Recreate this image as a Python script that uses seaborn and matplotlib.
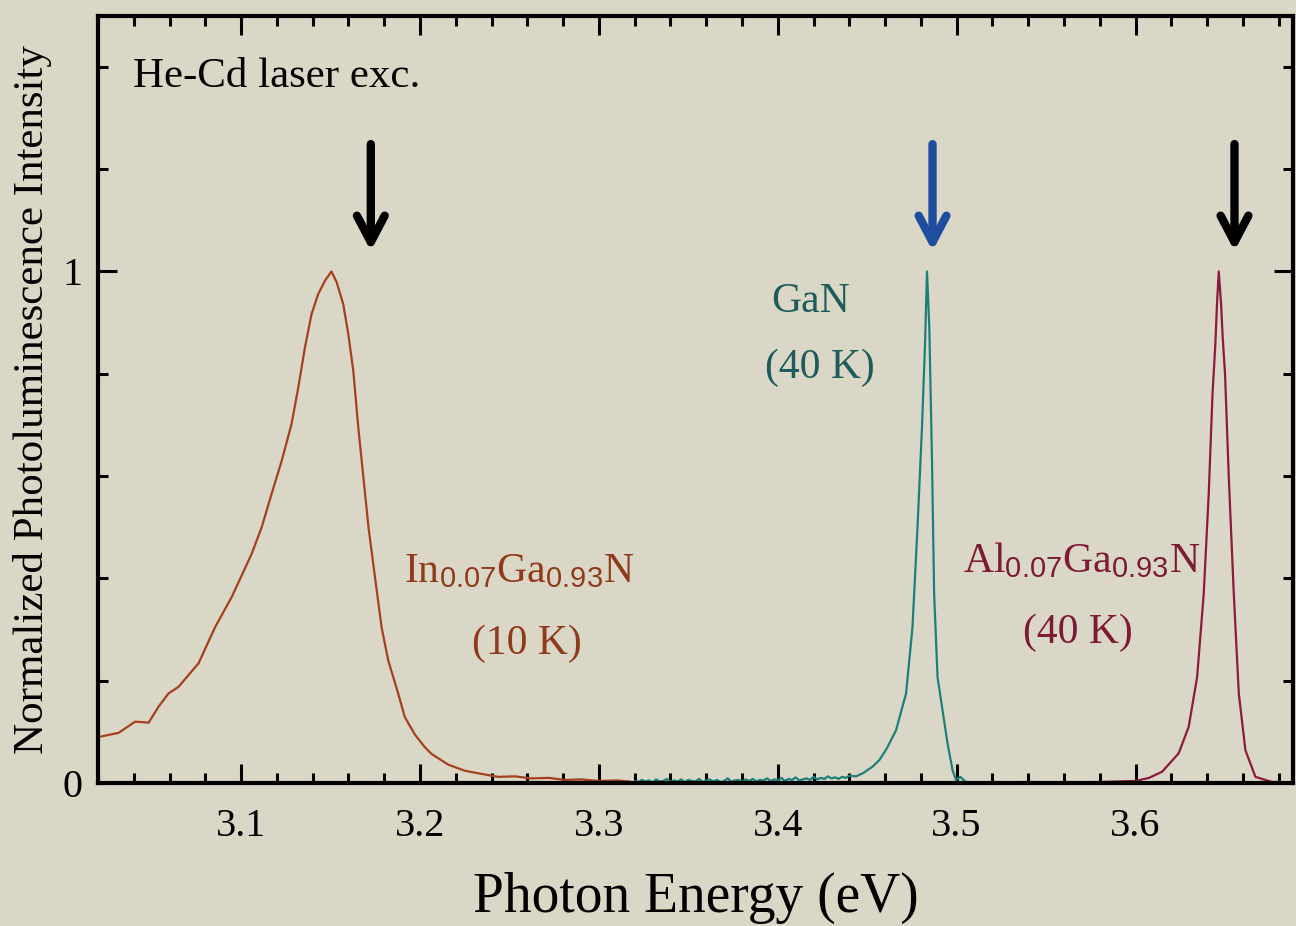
import matplotlib
matplotlib.use("Agg")
import matplotlib.pyplot as plt
import seaborn as sns
import pandas as pd
import numpy as np
from matplotlib.ticker import MultipleLocator

# ---------------- data ----------------
in_energy = [3.0204, 3.0315, 3.0408, 3.0483, 3.0540, 3.0594, 3.0650, 3.0762, 3.0855, 3.0948,
             3.1059, 3.1115, 3.1171, 3.1227, 3.1282, 3.1320, 3.1357, 3.1394, 3.1431, 3.1469,
             3.1505, 3.1534, 3.1571, 3.1599, 3.1627, 3.1655, 3.1712, 3.1748, 3.1785, 3.1822,
             3.1878, 3.1915, 3.1971, 3.2027, 3.2064, 3.2157, 3.2250, 3.2340, 3.2436, 3.2530,
             3.2620, 3.2720, 3.2810, 3.2900, 3.3000, 3.3100, 3.3172]
in_intensity = [0.090, 0.098, 0.120, 0.118, 0.150, 0.175, 0.188, 0.234, 0.305, 0.364,
                0.448, 0.500, 0.566, 0.630, 0.702, 0.774, 0.852, 0.917, 0.956, 0.982,
                1.000, 0.979, 0.936, 0.878, 0.806, 0.695, 0.500, 0.403, 0.305, 0.240,
                0.175, 0.129, 0.095, 0.070, 0.057, 0.036, 0.024, 0.018, 0.012, 0.013,
                0.009, 0.010, 0.006, 0.007, 0.004, 0.005, 0.003]

gan_energy = [3.320, 3.322, 3.324, 3.326, 3.328, 3.330, 3.332, 3.334, 3.336, 3.338,
              3.340, 3.342, 3.344, 3.346, 3.348, 3.350, 3.352, 3.354, 3.356, 3.358,
              3.360, 3.362, 3.364, 3.366, 3.368, 3.370, 3.372, 3.374, 3.376, 3.378,
              3.380, 3.382, 3.384, 3.386, 3.388, 3.390, 3.392, 3.394, 3.396, 3.398,
              3.400, 3.402, 3.404, 3.406, 3.408, 3.410, 3.412, 3.414, 3.416, 3.418,
              3.420, 3.422, 3.424, 3.426, 3.428, 3.430, 3.432, 3.434, 3.436, 3.438,
              3.440, 3.4438, 3.448, 3.4530, 3.4568, 3.4610, 3.4661, 3.4717, 3.4753, 3.4781,
              3.4806, 3.4823, 3.4834, 3.4847, 3.4862, 3.4874, 3.4893, 3.4921, 3.4949, 3.4977,
              3.4996, 3.5020, 3.5051]
gan_intensity = [0.004, 0.002, 0.006, 0.003, 0.005, 0.001, 0.007, 0.003, 0.004, 0.008,
                 0.002, 0.005, 0.003, 0.007, 0.002, 0.006, 0.004, 0.003, 0.008, 0.002,
                 0.005, 0.007, 0.003, 0.006, 0.002, 0.004, 0.009, 0.003, 0.005, 0.006,
                 0.002, 0.007, 0.004, 0.008, 0.003, 0.006, 0.005, 0.009, 0.004, 0.007,
                 0.005, 0.010, 0.004, 0.008, 0.006, 0.011, 0.005, 0.007, 0.009, 0.006,
                 0.012, 0.007, 0.010, 0.008, 0.013, 0.009, 0.011, 0.008, 0.012, 0.010,
                 0.014, 0.013, 0.020, 0.032, 0.045, 0.068, 0.103, 0.175, 0.305, 0.500,
                 0.695, 0.858, 1.000, 0.891, 0.630, 0.370, 0.207, 0.142, 0.077, 0.025,
                 0.006, 0.012, 0.002]

al_energy = [3.5066, 3.5200, 3.5400, 3.5600, 3.5800, 3.5900, 3.6000, 3.6075, 3.6148, 3.6241,
             3.6297, 3.6344, 3.6381, 3.6409, 3.6430, 3.6446, 3.6455, 3.6465, 3.6478, 3.6487,
             3.6500, 3.6521, 3.6549, 3.6577, 3.6614, 3.6670, 3.6763, 3.6880]
al_intensity = [0.000, 0.001, 0.002, 0.001, 0.002, 0.003, 0.004, 0.010, 0.022, 0.058,
                0.110, 0.207, 0.370, 0.566, 0.760, 0.858, 0.936, 1.000, 0.936, 0.871,
                0.800, 0.598, 0.370, 0.175, 0.064, 0.012, 0.002, 0.001]

arrow_energy = [3.1725, 3.4865, 3.6553]
arrow_colors = ["black", "#1f4e9e", "black"]

x_limits = (3.02, 3.688)
y_limits = (0.0, 1.5)

# ---------------- style ----------------
sns.set_theme(style="ticks")
paper = "#dbd7c6"
plt.rcParams["font.family"] = ["Liberation Serif", "DejaVu Serif"]
plt.rcParams["mathtext.fontset"] = "custom"
plt.rcParams["mathtext.rm"] = "Liberation Serif"
plt.rcParams["mathtext.sf"] = "Liberation Sans"
plt.rcParams["mathtext.it"] = "Liberation Serif:italic"
plt.rcParams["mathtext.bf"] = "Liberation Serif:bold"
for k in ["text.color", "axes.labelcolor", "xtick.color", "ytick.color", "axes.edgecolor"]:
    plt.rcParams[k] = "black"

fig = plt.figure(figsize=(12.96, 9.26), dpi=100, facecolor=paper)
ax = fig.add_axes([98 / 1296, (926 - 783) / 926, (1293 - 98) / 1296, (783 - 15.7) / 926])
ax.set_facecolor(paper)

c_in, c_gan, c_al = "#a3411c", "#1e7f7a", "#8b1a3c"

df_in = pd.DataFrame({"E": in_energy, "I": in_intensity})
df_gan = pd.DataFrame({"E": gan_energy, "I": gan_intensity})
df_al = pd.DataFrame({"E": al_energy, "I": al_intensity})

sns.lineplot(data=df_in, x="E", y="I", ax=ax, color=c_in, lw=1.6, sort=False)
sns.lineplot(data=df_gan, x="E", y="I", ax=ax, color=c_gan, lw=1.6, sort=False)
sns.lineplot(data=df_al, x="E", y="I", ax=ax, color=c_al, lw=1.6, sort=False)

ax.set_xlim(*x_limits)
ax.set_ylim(*y_limits)

ax.xaxis.set_major_locator(MultipleLocator(0.1))
ax.xaxis.set_minor_locator(MultipleLocator(0.02))
ax.yaxis.set_major_locator(MultipleLocator(1))
ax.yaxis.set_minor_locator(MultipleLocator(0.2))
ax.tick_params(which="both", direction="in", top=True, right=True, width=2.2, color="black",
               labelcolor="black")
ax.tick_params(which="major", length=13.7)
ax.tick_params(which="minor", length=7)
ax.tick_params(axis="x", which="major", labelsize=29, pad=18)
ax.tick_params(axis="y", which="major", labelsize=29, pad=11)
for s in ax.spines.values():
    s.set_linewidth(3)
    s.set_color("black")

ax.set_xlabel("Photon Energy (eV)", fontsize=40, color="black")
ax.xaxis.label.set_va("baseline")
ax.xaxis.set_label_coords(0.5, (783 - 911.7) / 767.3)
ax.set_ylabel("Normalized Photoluminescence Intensity", fontsize=31, color="black")
ax.yaxis.label.set_va("baseline")
ax.yaxis.set_label_coords((43.3 - 98) / 1195, 0.5)

# annotations
ax.text(0.0293, 0.907, "He-Cd laser exc.", transform=ax.transAxes, fontsize=31,
        ha="left", va="baseline", color="black")
ax.text(3.2553, 0.393, r"In$_{\mathsf{0.07}}$Ga$_{\mathsf{0.93}}$N", fontsize=30,
        ha="center", va="baseline", color="#8f3a1a")
ax.text(3.2600, 0.253, "(10 K)", fontsize=30, ha="center", va="baseline", color="#8f3a1a")
ax.text(3.4186, 0.920, "GaN", fontsize=30, ha="center", va="baseline", color="#1d5c5a")
ax.text(3.4233, 0.791, "(40 K)", fontsize=30, ha="center", va="baseline", color="#1d5c5a")
ax.text(3.5700, 0.412, r"Al$_{\mathsf{0.07}}$Ga$_{\mathsf{0.93}}$N", fontsize=30,
        ha="center", va="baseline", color="#7c1c34")
ax.text(3.5678, 0.273, "(40 K)", fontsize=30, ha="center", va="baseline", color="#7c1c34")

for e, c in zip(arrow_energy, arrow_colors):
    ax.annotate("", xy=(e, 1.04), xytext=(e, 1.249),
                arrowprops=dict(arrowstyle="->,head_length=0.95,head_width=0.5",
                                lw=6, color=c, shrinkA=0, shrinkB=0, mutation_scale=20))

fig.savefig("out.png", dpi=100, facecolor=paper)
